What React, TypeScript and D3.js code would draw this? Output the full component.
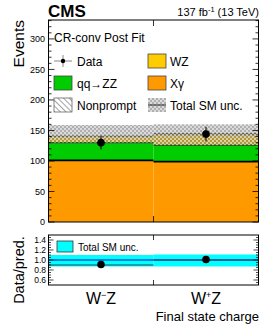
import React from "react";
import * as d3 from "d3";

const bins = ["W⁻Z", "W⁺Z"];
const xgamma = [101, 99];
const qqZZ = [29, 27];
const wz = [10, 17];
const nonprompt = [1, 2];
const dataVals = [130, 144];
const dataErr = [11, 12];
const uncLow = [130, 126];
const uncHigh = [159, 160];
const ratioVals = [0.91, 1.01];
const ratioErr = [0.07, 0.07];
const ratioLine = [0.9, 1.0];
const ratioBandLow = [0.87, 0.87];
const ratioBandHigh = [1.1, 1.11];
const yTicks = [0, 50, 100, 150, 200, 250, 300];
const rTicks = [0.6, 0.8, 1.0, 1.2, 1.4];

const W = 270, H = 327;
const L = 48.5, R = 258.5;
const font = "Liberation Sans, Arial, Helvetica, sans-serif";

export default function App() {
  const x = d3.scaleBand<string>().domain(bins).range([L, R]).paddingInner(0).paddingOuter(0);
  const y = d3.scaleLinear().domain([0, 331]).range([222, 20]);
  const yr = d3.scaleLinear().domain([0.5, 1.5]).range([285, 235]);
  const bw = x.bandwidth();

  const layers = [
    { vals: xgamma, fill: "#ff9900", stroke: "#000", sw: 1.6 },
    { vals: qqZZ, fill: "#00cc00", stroke: "#111", sw: 1 },
    { vals: wz, fill: "#ffcc00", stroke: "#555", sw: 1 },
    { vals: nonprompt, fill: "url(#hatch)", stroke: "#555", sw: 1 },
  ];
  const stacked = bins.map((_, i) => {
    let base = 0;
    return layers.map((l) => {
      const y0 = base;
      base += l.vals[i];
      return [y0, base];
    });
  });

  const minorMain = d3.range(0, 331, 10);
  const minorRatio = d3.range(0.55, 1.5, 0.05);

  return (
    <svg width={W} height={H} style={{ position: "absolute", left: 0, top: 0 }} fontFamily={font}>
      <defs>
        <pattern id="checker" width="4" height="4" patternUnits="userSpaceOnUse">
          <rect width="4" height="4" fill="rgba(110,110,110,0.55)" />
          <rect x="0" y="0" width="2" height="2" fill="rgba(255,255,255,0.55)" />
          <rect x="2" y="2" width="2" height="2" fill="rgba(255,255,255,0.55)" />
        </pattern>
        <pattern id="hatch" width="4" height="4" patternUnits="userSpaceOnUse" patternTransform="rotate(45)">
          <rect width="4" height="4" fill="#fff" />
          <line x1="0" y1="0" x2="4" y2="0" stroke="#666" strokeWidth="1.2" />
        </pattern>
      </defs>
      <rect width={W} height={H} fill="#fff" />

      {/* stack */}
      {bins.map((b, i) =>
        layers.map((l, j) => {
          const [v0, v1] = stacked[i][j];
          return (
            <rect key={b + j} x={x(b)} y={y(v1)} width={bw} height={y(v0) - y(v1)} fill={l.fill} />
          );
        })
      )}
      {bins.map((b, i) =>
        layers.map((l, j) => {
          const v1 = stacked[i][j][1];
          return (
            <line key={"l" + b + j} x1={x(b)} x2={x(b)! + bw} y1={y(v1)} y2={y(v1)} stroke={l.stroke} strokeWidth={l.sw} />
          );
        })
      )}
      {/* unc band */}
      {bins.map((b, i) => (
        <rect key={"u" + b} x={x(b)} y={y(uncHigh[i])} width={bw} height={y(uncLow[i]) - y(uncHigh[i])} fill="url(#checker)" />
      ))}
      {/* data */}
      {bins.map((b, i) => (
        <g key={"d" + b}>
          <line x1={x(b)! + bw / 2} x2={x(b)! + bw / 2} y1={y(dataVals[i] - dataErr[i])} y2={y(dataVals[i] + dataErr[i])} stroke="#000" strokeWidth={1} />
          <circle cx={x(b)! + bw / 2} cy={y(dataVals[i])} r={3.8} fill="#000" />
        </g>
      ))}

      {/* main frame */}
      <rect x={L} y={20} width={R - L} height={202} fill="none" stroke="#000" strokeWidth={1} />
      {minorMain.map((v) => {
        const len = v % 50 === 0 ? 6 : 3;
        return (
          <g key={"t" + v}>
            <line x1={L} x2={L + len} y1={y(v)} y2={y(v)} stroke="#000" strokeWidth={0.8} />
            <line x1={R} x2={R - len} y1={y(v)} y2={y(v)} stroke="#000" strokeWidth={0.8} />
          </g>
        );
      })}
      {yTicks.map((v) => (
        <text key={"yl" + v} x={45} y={y(v) + 3.2} fontSize={9} textAnchor="end" fill="#000">{v}</text>
      ))}
      <line x1={x(bins[1])} x2={x(bins[1])} y1={222} y2={216} stroke="#000" strokeWidth={0.8} />
      <line x1={x(bins[1])} x2={x(bins[1])} y1={20} y2={26} stroke="#000" strokeWidth={0.8} />

      {/* titles */}
      <text x={48} y={17} fontSize={17} fontWeight="bold" fill="#000">CMS</text>
      <text x={259} y={16} fontSize={11} textAnchor="end" fill="#000">
        137 fb<tspan dy={-4} fontSize={7.5}>-1</tspan><tspan dy={4}> (13 TeV)</tspan>
      </text>
      <text transform="translate(24,20) rotate(-90)" fontSize={15.5} textAnchor="end" fill="#000">Events</text>

      {/* legend */}
      <text x={54} y={42} fontSize={12} fill="#000">CR-conv Post Fit</text>
      <line x1={54} x2={72} y1={61} y2={61} stroke="#888" strokeWidth={1} />
      <line x1={63} x2={63} y1={55} y2={67} stroke="#888" strokeWidth={1} />
      <circle cx={63} cy={61} r={2.2} fill="#000" />
      <text x={77} y={65.5} fontSize={12} fill="#000">Data</text>
      <rect x={148} y={54} width={18} height={14} fill="#ffcc00" stroke="#444" strokeWidth={0.8} />
      <text x={170} y={65.5} fontSize={12} fill="#000">WZ</text>
      <rect x={54} y={76} width={18} height={14} fill="#00cc00" stroke="#444" strokeWidth={0.8} />
      <text x={77} y={87.5} fontSize={12} fill="#000">qq→ZZ</text>
      <rect x={148} y={76} width={18} height={14} fill="#ff9900" stroke="#444" strokeWidth={0.8} />
      <text x={170} y={87.5} fontSize={12} fill="#000">Xγ</text>
      <rect x={54} y={98} width={18} height={14} fill="url(#hatch)" stroke="#666" strokeWidth={0.8} />
      <text x={77} y={109.5} fontSize={12} fill="#000">Nonprompt</text>
      <rect x={148} y={98} width={18} height={14} fill="url(#checker)" />
      <line x1={148} x2={166} y1={105} y2={105} stroke="#444" strokeWidth={1.2} />
      <text x={170} y={109.5} fontSize={12} fill="#000">Total SM unc.</text>

      {/* ratio panel */}
      {bins.map((b, i) => (
        <rect key={"rb" + b} x={x(b)} y={yr(ratioBandHigh[i])} width={bw} height={yr(ratioBandLow[i]) - yr(ratioBandHigh[i])} fill="#00ffff" />
      ))}
      <line x1={L} x2={R} y1={yr(1)} y2={yr(1)} stroke="#0000cc" strokeWidth={1.2} />
      {bins.map((b, i) => (
        <line key={"rl" + b} x1={x(b)} x2={x(b)! + bw} y1={yr(ratioLine[i])} y2={yr(ratioLine[i])} stroke="#1a4a5a" strokeWidth={1} />
      ))}
      {bins.map((b, i) => (
        <g key={"rd" + b}>
          <line x1={x(b)! + bw / 2} x2={x(b)! + bw / 2} y1={yr(ratioVals[i] - ratioErr[i])} y2={yr(ratioVals[i] + ratioErr[i])} stroke="#000" strokeWidth={1} />
          <circle cx={x(b)! + bw / 2} cy={yr(ratioVals[i])} r={3.8} fill="#000" />
        </g>
      ))}
      <rect x={L} y={235} width={R - L} height={50} fill="none" stroke="#000" strokeWidth={1} />
      {minorRatio.map((v) => {
        const major = Math.abs(((v * 100) % 20)) < 0.5 || Math.abs(((v * 100) % 20) - 20) < 0.5;
        const len = major ? 5 : 2.5;
        return (
          <g key={"rt" + v.toFixed(2)}>
            <line x1={L} x2={L + len} y1={yr(v)} y2={yr(v)} stroke="#000" strokeWidth={0.7} />
            <line x1={R} x2={R - len} y1={yr(v)} y2={yr(v)} stroke="#000" strokeWidth={0.7} />
          </g>
        );
      })}
      {rTicks.map((v) => (
        <text key={"rl" + v} x={46} y={yr(v) + 3} fontSize={8.5} textAnchor="end" fill="#000">{v.toFixed(1)}</text>
      ))}
      <line x1={x(bins[1])} x2={x(bins[1])} y1={285} y2={280} stroke="#000" strokeWidth={0.8} />
      <line x1={x(bins[1])} x2={x(bins[1])} y1={235} y2={240} stroke="#000" strokeWidth={0.8} />
      <rect x={57} y={241} width={16} height={11} fill="#00ffff" stroke="#333" strokeWidth={0.8} />
      <text x={78} y={250.5} fontSize={10} fill="#000">Total SM unc.</text>
      <text transform="translate(24,270) rotate(-90)" fontSize={14.5} textAnchor="middle" fill="#000">Data/pred.</text>

      {/* x labels */}
      {bins.map((b) => (
        <text key={"xl" + b} x={x(b)! + bw / 2} y={304} fontSize={16} textAnchor="middle" fill="#000">
          W<tspan dy={-6} fontSize={9}>{b === "W⁻Z" ? "−" : "+"}</tspan><tspan dy={6}>Z</tspan>
        </text>
      ))}
      <text x={259} y={321} fontSize={13} textAnchor="end" fill="#000">Final state charge</text>
    </svg>
  );
}
